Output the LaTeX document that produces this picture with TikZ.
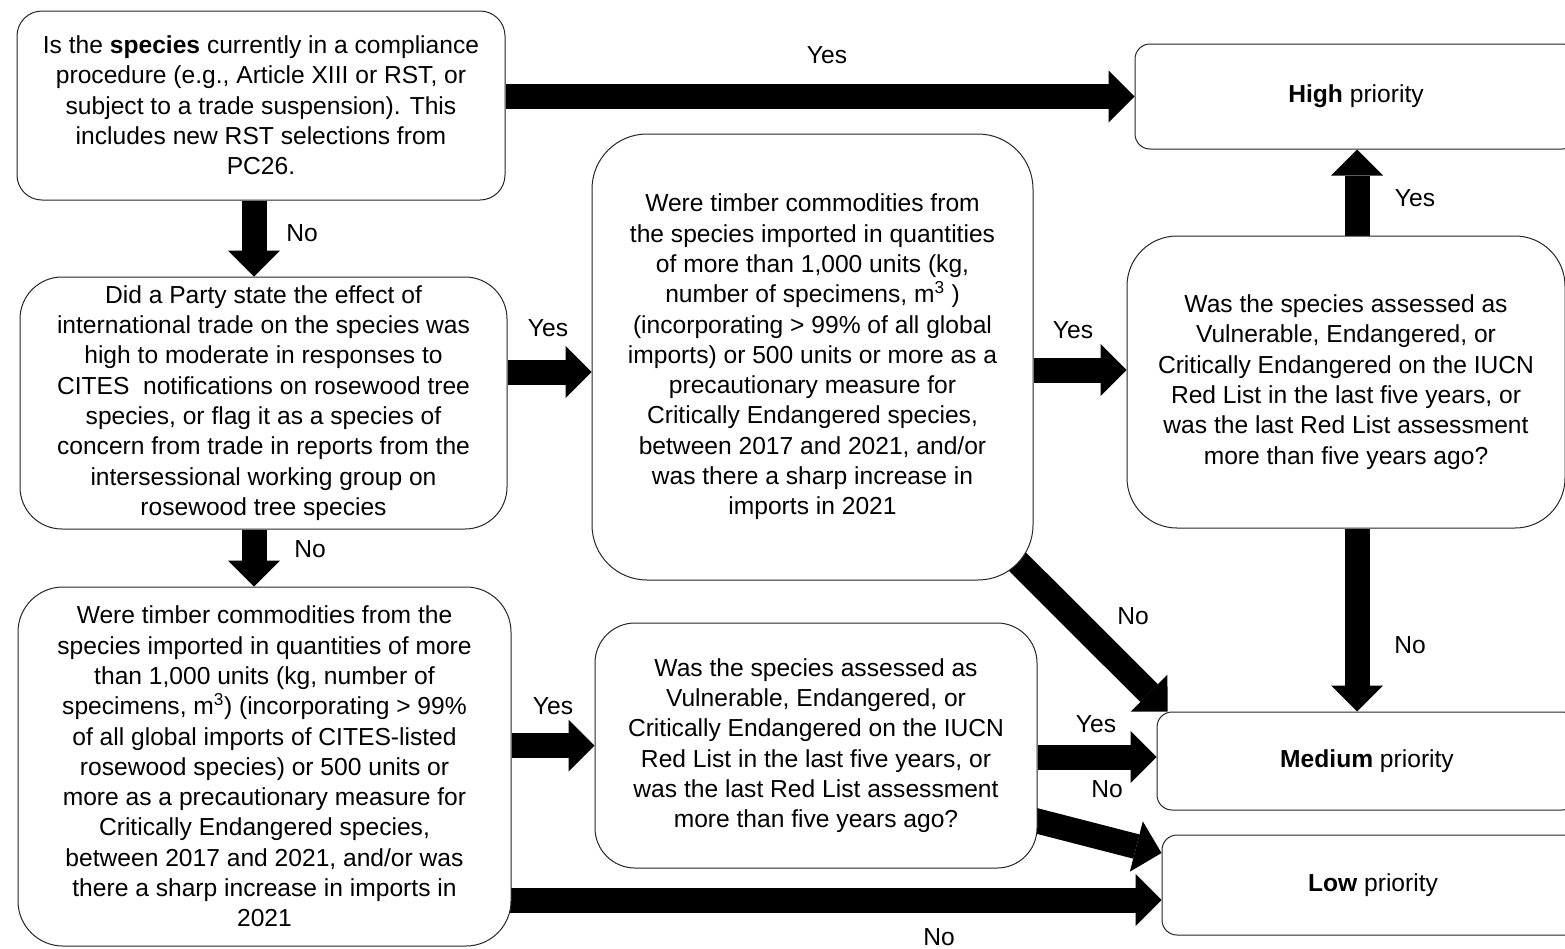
\documentclass[tikz,border=0pt]{standalone}
\usepackage{fontspec}
\setmainfont{Liberation Sans}
\usetikzlibrary{arrows.meta,backgrounds}
\begin{document}
\begin{tikzpicture}[x=1pt,y=-1pt,
  box/.style={draw=black!85, line width=1pt, fill=white, align=center, inner sep=0pt,
              font=\fontsize{24.6}{30.3}\selectfont},
  arr/.style={line width=25pt, -{Triangle[length=26pt 0 0, width=52pt 0 0, line width=0pt 0]}},
  lbl/.style={font=\fontsize{24.6}{28}\selectfont, inner sep=0pt}]
\useasboundingbox (0,0) rectangle (1565,948);

\node[box, minimum width=488pt, minimum height=189pt, rounded corners=25pt] (A) at (261,105.5)
  {Is the \textbf{species} currently in a compliance\\ procedure (e.g., Article XIII or RST, or\\ subject to a trade suspension). This\\ includes new RST selections from\\ PC26.};
\node[box, minimum width=487pt, minimum height=252pt, rounded corners=42pt] (B) at (263.5,403)
  {Did a Party state the effect of\\ international trade on the species was\\ high to moderate in responses to\\ CITES\ \ notifications on rosewood tree\\ species, or flag it as a species of\\ concern from trade in reports from the\\ intersessional working group on\\ rosewood tree species};
\node[box, minimum width=493pt, minimum height=359pt, rounded corners=45pt] (C) at (264.5,766.5)
  {Were timber commodities from the\\ species imported in quantities of more\\ than 1,000 units (kg, number of\\ specimens, m\textsuperscript{3}) (incorporating > 99\%\\ of all global imports of CITES-listed\\ rosewood species) or 500 units or\\ more as a precautionary measure for\\ Critically Endangered species,\\ between 2017 and 2021, and/or was\\ there a sharp increase in imports in\\ 2021};
\node[box, minimum width=441pt, minimum height=446pt, rounded corners=55pt] (D) at (812.5,357)
  {Were timber commodities from\\ the species imported in quantities\\ of more than 1,000 units (kg,\\ number of specimens, m\textsuperscript{3} )\\ (incorporating > 99\% of all global\\ imports) or 500 units or more as a\\ precautionary measure for\\ Critically Endangered species,\\ between 2017 and 2021, and/or\\ was there a sharp increase in\\ imports in 2021};
\node[box, minimum width=442pt, minimum height=245pt, rounded corners=40pt] (E) at (816,745.5)
  {Was the species assessed as\\ Vulnerable, Endangered, or\\ Critically Endangered on the IUCN\\ Red List in the last five years, or\\ was the last Red List assessment\\ more than five years ago?};
\node[box, minimum width=438pt, minimum height=292pt, rounded corners=50pt] (F) at (1346,382)
  {Was the species assessed as\\ Vulnerable, Endangered, or\\ Critically Endangered on the IUCN\\ Red List in the last five years, or\\ was the last Red List assessment\\ more than five years ago?};
\node[box, minimum width=442pt, minimum height=105pt, rounded corners=15pt] (High) at (1356,96.5)
  {\textbf{High} priority};
\node[box, minimum width=420pt, minimum height=98pt, rounded corners=15pt] (Med) at (1367,761)
  {\textbf{Medium} priority};
\node[box, minimum width=422pt, minimum height=100pt, rounded corners=15pt] (Low) at (1373,885)
  {\textbf{Low} priority};

\coordinate (colR) at (1357,0);

\begin{scope}[on background layer]
\draw[arr] (A.east |- High.west) -- (High.west);
\draw[arr] ([xshift=-7pt]A.south) -- ([xshift=-7pt]A.south |- B.north);
\draw[arr] ([xshift=-9.5pt]B.south) -- ([xshift=-9.5pt]B.south |- C.north);
\draw[arr] ([yshift=31pt]B.east) -- ([yshift=31pt]B.east -| D.west);
\draw[arr] ([yshift=12pt]F.west -| D.east) -- ([yshift=12pt]F.west);
\draw[arr] (F.north -| colR) -- (High.south -| colR);
\draw[arr] (F.south -| colR) -- (Med.north -| colR);
\draw[arr] (D.center) -- ([xshift=11pt]Med.north west);
\draw[arr] (C.east |- E.west) -- (E.west);
\draw[arr] ([yshift=4pt]Med.west -| E.east) -- ([yshift=4pt]Med.west);
\draw[arr] ([xshift=-10pt,yshift=-73pt]E.east) -- ([yshift=32pt]Low.west);
\draw[arr] ([yshift=-15pt]Low.west -| C.center) -- ([yshift=-15pt]Low.west);
\end{scope}

\node[lbl] (l1) at (827,55) {Yes};
\node[lbl] (l2) at (302,233) {No};
\node[lbl] (l3) at (548,328) {Yes};
\node[lbl] (l4) at (310,549) {No};
\node[lbl] (l5) at (1073,330) {Yes};
\node[lbl] (l6) at (1415,198) {Yes};
\node[lbl] (l7) at (1133,616) {No};
\node[lbl] (l8) at (1410,645) {No};
\node[lbl] (l9) at (553,706) {Yes};
\node[lbl] (l10) at (1096,724) {Yes};
\node[lbl] (l11) at (1107,789) {No};
\node[lbl] (l12) at (939,937) {No};
\end{tikzpicture}
\end{document}
